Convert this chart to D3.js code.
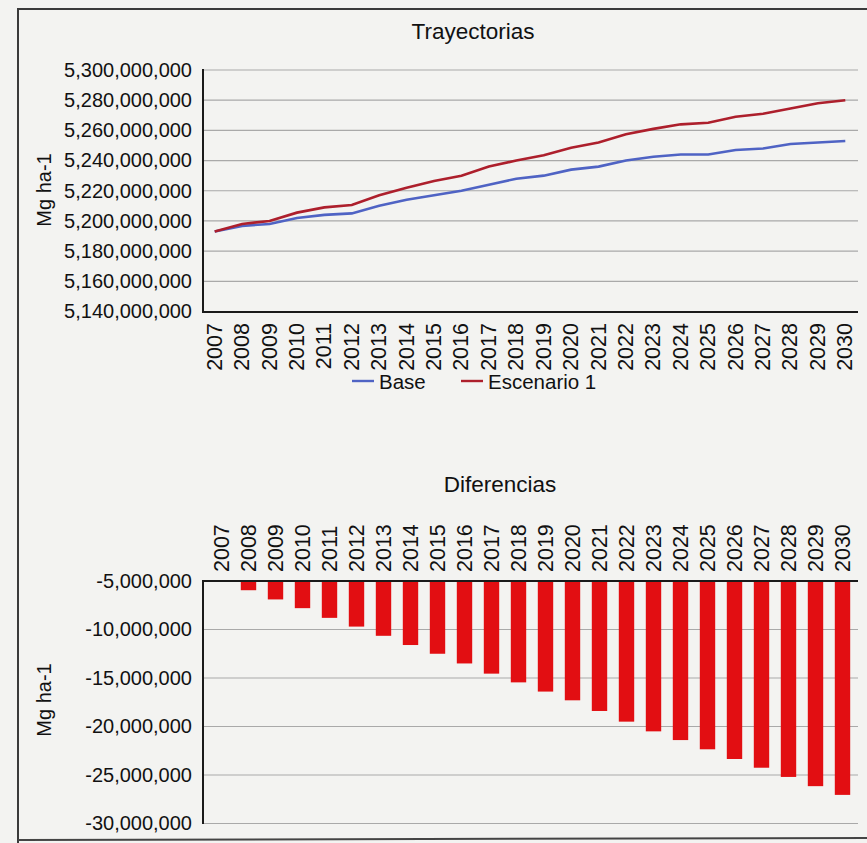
<!DOCTYPE html>
<html><head><meta charset="utf-8">
<script src="https://cdn.jsdelivr.net/npm/d3@7"></script>
<style>
html,body{margin:0;padding:0;background:#f3f3f1;}
svg{display:block;font-family:"Liberation Sans",Arial,Helvetica,sans-serif;}
</style></head>
<body>
<svg id="c" width="867" height="843"></svg>
<script>
const years = ["2007","2008","2009","2010","2011","2012","2013","2014","2015","2016","2017","2018","2019","2020","2021","2022","2023","2024","2025","2026","2027","2028","2029","2030"];
const baseValues = [5193.0,5196.7,5198.0,5202.0,5204.0,5205.0,5210.0,5214.0,5217.0,5220.0,5224.0,5228.0,5230.0,5234.0,5236.0,5240.0,5242.5,5244.0,5244.0,5247.0,5248.0,5251.0,5252.0,5253.0].map(v=>v*1e6);
const escenarioValues = [5193.0,5198.0,5200.0,5205.5,5209.0,5210.5,5217.0,5222.0,5226.5,5230.0,5236.0,5240.0,5243.5,5248.5,5252.0,5257.5,5261.0,5264.0,5265.0,5269.0,5271.0,5274.5,5278.0,5280.0].map(v=>v*1e6);
const diffValues = [0,-5.95,-6.9,-7.8,-8.8,-9.7,-10.65,-11.6,-12.5,-13.5,-14.55,-15.45,-16.4,-17.3,-18.4,-19.5,-20.5,-21.4,-22.35,-23.35,-24.25,-25.2,-26.15,-27.05].map(v=>v*1e6);
const topTicks = [5140,5160,5180,5200,5220,5240,5260,5280,5300].map(v=>v*1e6);
const bottomTicks = [-5,-10,-15,-20,-25,-30].map(v=>v*1e6);
const seriesNames = ["Base","Escenario 1"];
const colors = {base:"#4f63c4", esc:"#ad1f2c", bar:"#e20e12", grid:"#a9a9a9", axis:"#1a1a1a"};

const svg = d3.select("#c");
const fmt = d3.formatLocale({decimal:".", thousands:",", grouping:[3], currency:["$",""], minus:"-"}).format(",");
const FS = 20;       // tick label size
const YS = 21.5;     // year label size

// frame (scanned page border)
svg.append("path").attr("d","M18,843 L18,9 L867,9").attr("fill","none").attr("stroke","#3a3a3a").attr("stroke-width",2);
svg.append("line").attr("x1",18).attr("x2",867).attr("y1",840).attr("y2",838).attr("stroke","#444").attr("stroke-width",2);

// ---------------- Top chart ----------------
const xT = d3.scaleBand().domain(years).range([201,859]);
const yT = d3.scaleLinear().domain([5140e6,5300e6]).range([311.5,70]);
const gT = svg.append("g");

gT.append("text").attr("x",473).attr("y",39).attr("text-anchor","middle").attr("font-size",22.5).attr("fill","#111").text("Trayectorias");

gT.selectAll(".gl").data(topTicks.slice(1)).enter().append("line")
  .attr("x1",203).attr("x2",858).attr("y1",d=>yT(d)).attr("y2",d=>yT(d))
  .attr("stroke",colors.grid).attr("stroke-width",1.2);

const yAxisT = d3.axisLeft(yT).tickValues(topTicks).tickFormat(fmt).tickSize(0).tickPadding(11);
const ya = gT.append("g").attr("transform","translate(203,0)").call(yAxisT);
ya.select(".domain").remove();
ya.selectAll("text").attr("font-size",FS).attr("fill","#111").attr("font-family","Liberation Sans,Arial,sans-serif");

gT.append("line").attr("x1",203).attr("x2",203).attr("y1",69).attr("y2",312.5).attr("stroke",colors.axis).attr("stroke-width",2);
gT.append("line").attr("x1",202).attr("x2",858).attr("y1",312).attr("y2",312).attr("stroke",colors.axis).attr("stroke-width",2.2);

const xAxisT = d3.axisBottom(xT).tickSize(0).tickPadding(0);
const xa = gT.append("g").attr("transform","translate(0,312)").call(xAxisT);
xa.select(".domain").remove();
xa.selectAll("text").attr("font-size",YS).attr("fill","#111").attr("font-family","Liberation Sans,Arial,sans-serif")
  .attr("text-anchor","end").attr("dy",null).attr("y",0)
  .attr("transform","translate(7,11) rotate(-90)");

const line = d3.line().x((d,i)=>xT(years[i])+xT.bandwidth()/2).y(d=>yT(d));
gT.append("path").datum(baseValues).attr("d",line).attr("fill","none").attr("stroke",colors.base).attr("stroke-width",2.6);
gT.append("path").datum(escenarioValues).attr("d",line).attr("fill","none").attr("stroke",colors.esc).attr("stroke-width",2.6);

gT.append("text").attr("transform","translate(51,190) rotate(-90)").attr("text-anchor","middle").attr("font-size",FS).attr("fill","#111").text("Mg ha-1");

// legend
const legendX = [352,461];
const legendC = [colors.base, colors.esc];
seriesNames.forEach((n,i)=>{
  gT.append("line").attr("x1",legendX[i]).attr("x2",legendX[i]+22).attr("y1",381).attr("y2",381).attr("stroke",legendC[i]).attr("stroke-width",2.4);
  gT.append("text").attr("x",legendX[i]+27).attr("y",388.5).attr("font-size",20.5).attr("fill","#111").text(n);
});

// ---------------- Bottom chart ----------------
const xB = d3.scaleBand().domain(years).range([208,856]).paddingInner(0.43).paddingOuter(0.215);
const yB = d3.scaleLinear().domain([-5e6,-30e6]).range([581,823.5]).clamp(true);
const gB = svg.append("g");

gB.append("text").attr("x",500).attr("y",492).attr("text-anchor","middle").attr("font-size",22.5).attr("fill","#111").text("Diferencias");

gB.selectAll(".gl").data(bottomTicks.slice(1)).enter().append("line")
  .attr("x1",203).attr("x2",858).attr("y1",d=>yB(d)).attr("y2",d=>yB(d))
  .attr("stroke",colors.grid).attr("stroke-width",1.2);

const yAxisB = d3.axisLeft(yB).tickValues(bottomTicks).tickFormat(fmt).tickSize(0).tickPadding(11);
const yb = gB.append("g").attr("transform","translate(203,0)").call(yAxisB);
yb.select(".domain").remove();
yb.selectAll("text").attr("font-size",FS).attr("fill","#111").attr("font-family","Liberation Sans,Arial,sans-serif");

gB.selectAll("rect.bar").data(diffValues).enter().append("rect").attr("class","bar")
  .attr("x",(d,i)=>xB(years[i])).attr("width",xB.bandwidth())
  .attr("y",yB(-5e6)).attr("height",d=>yB(d)-yB(-5e6))
  .attr("fill",colors.bar);

gB.append("line").attr("x1",203).attr("x2",203).attr("y1",580).attr("y2",824).attr("stroke",colors.axis).attr("stroke-width",2);
gB.append("line").attr("x1",202).attr("x2",858).attr("y1",581).attr("y2",581).attr("stroke",colors.axis).attr("stroke-width",2.2);

const xAxisB = d3.axisTop(xB).tickSize(0).tickPadding(0);
const xb = gB.append("g").attr("transform","translate(0,581)").call(xAxisB);
xb.select(".domain").remove();
xb.selectAll("text").attr("font-size",YS).attr("fill","#111").attr("font-family","Liberation Sans,Arial,sans-serif")
  .attr("text-anchor","start").attr("dy",null).attr("y",0)
  .attr("transform","translate(7,-9) rotate(-90)");

gB.append("text").attr("transform","translate(51,700) rotate(-90)").attr("text-anchor","middle").attr("font-size",FS).attr("fill","#111").text("Mg ha-1");
</script>
</body></html>
